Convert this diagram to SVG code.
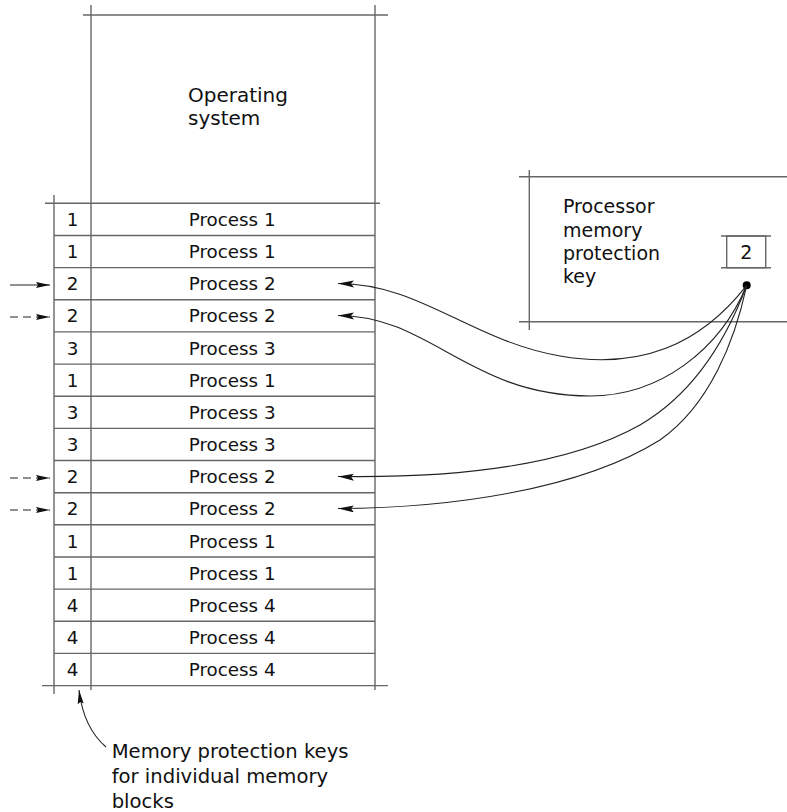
<svg xmlns="http://www.w3.org/2000/svg" width="787" height="812" viewBox="0 0 787 812">
<style>
.ln{stroke:#666;stroke-width:1.4;fill:none}
.cv{stroke:#222;stroke-width:1.1;fill:none}
.t{font-family:"DejaVu Sans","Open Sans",sans-serif;font-size:18.3px;fill:#111}
.c{text-anchor:middle}
.os{font-size:20px}
.pr{font-size:19px}
.an{font-size:19.6px}
</style>
<defs>
<marker id="ah" viewBox="0 0 16 8" refX="16" refY="4" markerWidth="16" markerHeight="8" markerUnits="userSpaceOnUse" orient="auto-start-reverse">
<path d="M16,4 L0,0 L3,4 L0,7 Z" fill="#111"/>
</marker>
<marker id="ar" viewBox="0 0 14 8" refX="14" refY="4" markerWidth="14" markerHeight="8" markerUnits="userSpaceOnUse" orient="auto">
<path d="M0,1 L14,4 L0,7 L2,4 Z" fill="#111"/>
</marker>
</defs>
<rect width="787" height="812" fill="#fff"/>
<g id="memory">
<g id="os">
<line class="ln" x1="83" y1="15" x2="388" y2="15"/>
<line class="ln" x1="91" y1="5" x2="91" y2="690"/>
<line class="ln" x1="375" y1="5" x2="375" y2="690"/>
<text class="t os" x="188" y="101.5">Operating</text>
<text class="t os" x="188" y="125">system</text>
</g>
<g id="frame">
<line class="ln" x1="54" y1="195" x2="54" y2="694"/>
<line class="ln" x1="45" y1="203.3" x2="380" y2="203.3"/>
<line class="ln" x1="42" y1="685.6" x2="388" y2="685.6"/>
</g>
<g id="row1"><line class="ln" x1="54" y1="235.5" x2="375" y2="235.5"/><text class="t c" x="72.5" y="226">1</text><text class="t c" x="232.2" y="226">Process 1</text></g>
<g id="row2"><line class="ln" x1="54" y1="267.6" x2="375" y2="267.6"/><text class="t c" x="72.5" y="258.1">1</text><text class="t c" x="232.2" y="258.1">Process 1</text></g>
<g id="row3"><line class="ln" x1="54" y1="299.8" x2="375" y2="299.8"/><text class="t c" x="72.5" y="290.3">2</text><text class="t c" x="232.2" y="290.3">Process 2</text></g>
<g id="row4"><line class="ln" x1="54" y1="331.9" x2="375" y2="331.9"/><text class="t c" x="72.5" y="322.4">2</text><text class="t c" x="232.2" y="322.4">Process 2</text></g>
<g id="row5"><line class="ln" x1="54" y1="364.1" x2="375" y2="364.1"/><text class="t c" x="72.5" y="354.6">3</text><text class="t c" x="232.2" y="354.6">Process 3</text></g>
<g id="row6"><line class="ln" x1="54" y1="396.2" x2="375" y2="396.2"/><text class="t c" x="72.5" y="386.7">1</text><text class="t c" x="232.2" y="386.7">Process 1</text></g>
<g id="row7"><line class="ln" x1="54" y1="428.4" x2="375" y2="428.4"/><text class="t c" x="72.5" y="418.9">3</text><text class="t c" x="232.2" y="418.9">Process 3</text></g>
<g id="row8"><line class="ln" x1="54" y1="460.5" x2="375" y2="460.5"/><text class="t c" x="72.5" y="451">3</text><text class="t c" x="232.2" y="451">Process 3</text></g>
<g id="row9"><line class="ln" x1="54" y1="492.7" x2="375" y2="492.7"/><text class="t c" x="72.5" y="483.2">2</text><text class="t c" x="232.2" y="483.2">Process 2</text></g>
<g id="row10"><line class="ln" x1="54" y1="524.8" x2="375" y2="524.8"/><text class="t c" x="72.5" y="515.3">2</text><text class="t c" x="232.2" y="515.3">Process 2</text></g>
<g id="row11"><line class="ln" x1="54" y1="557" x2="375" y2="557"/><text class="t c" x="72.5" y="547.5">1</text><text class="t c" x="232.2" y="547.5">Process 1</text></g>
<g id="row12"><line class="ln" x1="54" y1="589.1" x2="375" y2="589.1"/><text class="t c" x="72.5" y="579.6">1</text><text class="t c" x="232.2" y="579.6">Process 1</text></g>
<g id="row13"><line class="ln" x1="54" y1="621.3" x2="375" y2="621.3"/><text class="t c" x="72.5" y="611.8">4</text><text class="t c" x="232.2" y="611.8">Process 4</text></g>
<g id="row14"><line class="ln" x1="54" y1="653.4" x2="375" y2="653.4"/><text class="t c" x="72.5" y="643.9">4</text><text class="t c" x="232.2" y="643.9">Process 4</text></g>
<g id="row15"><text class="t c" x="72.5" y="676.1">4</text><text class="t c" x="232.2" y="676.1">Process 4</text></g>
</g>
<g id="processor">
<line class="ln" x1="519" y1="176.7" x2="787" y2="176.7"/>
<line class="ln" x1="529.3" y1="170" x2="529.3" y2="330"/>
<line class="ln" x1="519" y1="321.7" x2="787" y2="321.7"/>
<text class="t pr" x="563" y="213.3">Processor</text>
<text class="t pr" x="563" y="236.5">memory</text>
<text class="t pr" x="563" y="259.7">protection</text>
<text class="t pr" x="563" y="282.9">key</text>
</g>
<g id="key-register">
<rect class="ln" x="726.7" y="236" width="39" height="31.7"/>
<line class="ln" x1="721" y1="236" x2="771" y2="236"/>
<line class="ln" x1="721" y1="267.7" x2="771" y2="267.7"/>
<text class="t pr c" x="746.2" y="258.8">2</text>
<circle cx="746.7" cy="285.3" r="4" fill="#000"/>
</g>
<g id="annotation">
<text class="t an" x="111.7" y="758.3">Memory protection keys</text>
<text class="t an" x="111.7" y="783">for individual memory</text>
<text class="t an" x="111.7" y="807.5">blocks</text>
</g>
<g id="connectors">
<path class="cv" marker-start="url(#ah)" d="M338,283.5 C420,283.5 470,340 560,356 C640,370 700,345 746.7,285.3"/>
<path class="cv" marker-start="url(#ah)" d="M338,315.5 C430,315.5 470,396 590,396 C660,396 720,350 746.7,285.3"/>
<path class="cv" marker-start="url(#ah)" d="M338,476.5 C440,478 560,470 640,425 C700,390 730,330 746.7,285.3"/>
<path class="cv" marker-start="url(#ah)" d="M338,508.5 C450,508 580,490 660,440 C710,405 735,340 746.7,285.3"/>
<line class="cv" marker-end="url(#ar)" x1="10" y1="285" x2="50" y2="285"/>
<line class="cv" marker-end="url(#ar)" x1="10" y1="317" x2="50" y2="317" stroke-dasharray="8,5"/>
<line class="cv" marker-end="url(#ar)" x1="10" y1="478" x2="50" y2="478" stroke-dasharray="8,5"/>
<line class="cv" marker-end="url(#ar)" x1="10" y1="510" x2="50" y2="510" stroke-dasharray="8,5"/>
<path class="cv" marker-end="url(#ar)" d="M106,747 C92,735 82,715 79,690"/>
</g>
</svg>
